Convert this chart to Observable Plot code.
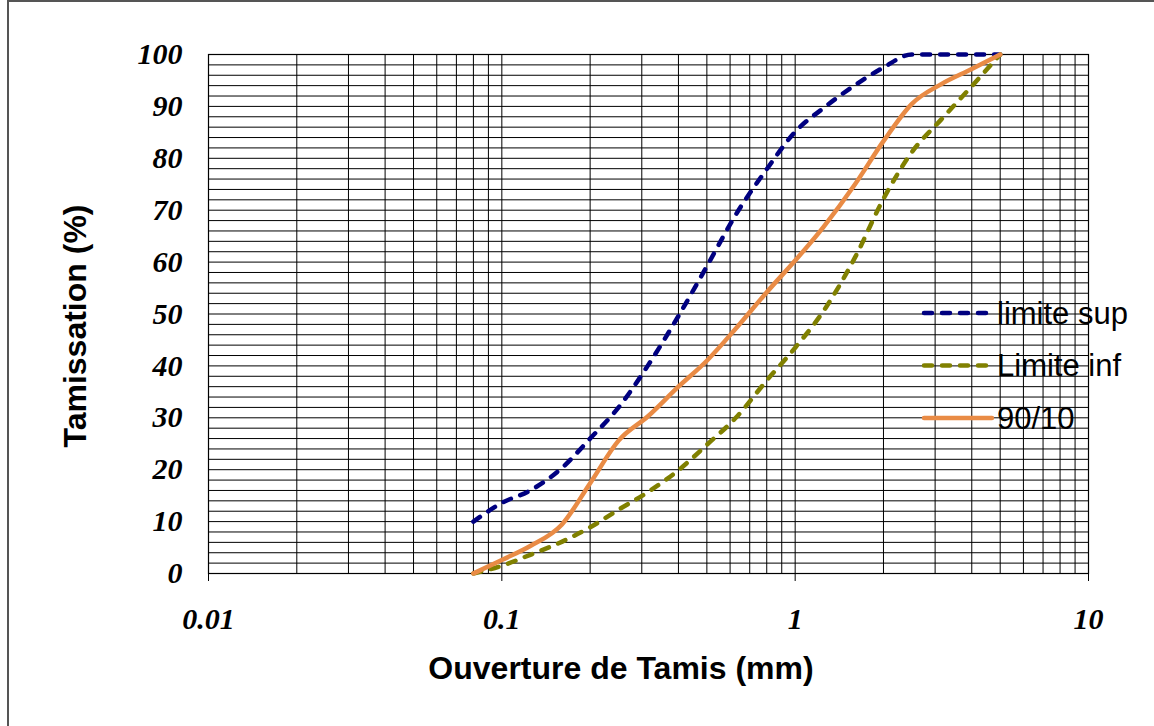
<!DOCTYPE html>
<html>
<head>
<meta charset="utf-8">
<script src="https://cdn.jsdelivr.net/npm/d3@7"></script>
<script src="https://cdn.jsdelivr.net/npm/@observablehq/plot@0.6"></script>
<style>
  html, body { margin: 0; padding: 0; background: #fff; }
  #wrap { position: relative; width: 1154px; height: 726px; overflow: hidden; background: #fff; }
  #wrap svg { position: absolute; left: 0; top: 0; }
  .bTop { position: absolute; left: 7px; top: 0; width: 1147px; height: 2px; background: #555; }
  .bLeft { position: absolute; left: 7px; top: 0; width: 2px; height: 726px; background: #555; }
</style>
</head>
<body>
<div id="wrap"><div class="bTop"></div><div class="bLeft"></div></div>
<script>
// Sieve openings (mm)
const sieves = [0.08, 0.1, 0.125, 0.16, 0.2, 0.25, 0.315, 0.4, 0.5, 0.63, 0.8, 1, 1.25, 1.6, 2, 2.5, 3.15, 4, 5];
// Passing (%) per series
const limiteSup = [10, 13.6, 16, 20.3, 26, 32, 40.1, 49.6, 59.2, 69.3, 77.9, 85.1, 89.7, 94.1, 97.5, 100, 100, 100, 100];
const limiteInf = [0, 1.5, 3.6, 6.1, 8.9, 12.3, 15.7, 19.9, 24.8, 30.1, 37.2, 43.5, 50.6, 60.9, 72.2, 81.2, 87.5, 93.9, 100];
const courbe9010 = [0, 2.6, 5.3, 9.4, 17.4, 25.6, 30.3, 36, 41, 47.3, 54.2, 60.3, 66.8, 75, 83.3, 90.5, 94.3, 97.2, 100];
const seriesNames = ["limite sup", "Limite inf", "90/10"];
const seriesColors = ["#000080", "#808000", "#E98B45"];
const seriesDash = ["8,10", "8,10", null];
// Axis ticks
const xTicks = [0.01, 0.1, 1, 10];
const yTicks = [0, 10, 20, 30, 40, 50, 60, 70, 80, 90, 100];
// Grid lines
const xGrid = [];
for (const dec of [0.01, 0.1, 1]) for (let k = 1; k <= 9; k++) xGrid.push(+(dec * k).toPrecision(3));
xGrid.push(10);
const yGrid = d3.range(0, 101, 2);

const seriesValues = [limiteSup, limiteInf, courbe9010];
const rows = seriesValues.map((vals, i) => sieves.map((s, j) => ({ s, v: vals[j], name: seriesNames[i] })));

const serif = "'Liberation Serif', 'Times New Roman', serif";
const sans = "'Liberation Sans', Arial, sans-serif";

const chart = Plot.plot({
  width: 1154,
  height: 726,
  marginLeft: 208,
  marginRight: 66,
  marginTop: 54,
  marginBottom: 153,
  x: { type: "log", domain: [0.01, 10] },
  y: { domain: [0, 100] },
  style: { background: "transparent", color: "#000" },
  marks: [
    Plot.ruleY(yGrid, { stroke: "#000", strokeWidth: 1 }),
    Plot.ruleX(xGrid, { stroke: "#000", strokeWidth: 1 }),
    Plot.frame({ stroke: "#000", strokeWidth: 1.2 }),
    Plot.axisY(yTicks, {
      tickSize: 0, tickPadding: 26, label: null,
      fontFamily: serif, fontStyle: "italic", fontWeight: "bold", fontSize: 30, fill: "#000"
    }),
    Plot.axisX(xTicks, {
      tickSize: 8, tickPadding: 26, label: null, tickFormat: d => String(d),
      fontFamily: serif, fontStyle: "italic", fontWeight: "bold", fontSize: 30, fill: "#000", stroke: "#000"
    }),
    ...rows.map((r, i) => Plot.line(r, {
      x: "s", y: "v", stroke: seriesColors[i], strokeWidth: 4.5,
      strokeDasharray: seriesDash[i] || undefined, strokeLinecap: "round",
      curve: "monotone-x"
    }))
  ]
});

const svg = d3.select(chart);
// Axis titles
svg.append("text")
  .attr("transform", "translate(75,326) rotate(-90)")
  .attr("text-anchor", "middle").attr("dy", "0.35em")
  .style("font-family", sans).style("font-weight", "bold").style("font-size", "32px")
  .text("Tamissation (%)");
svg.append("text")
  .attr("x", 621).attr("y", 668)
  .attr("text-anchor", "middle").attr("dy", "0.35em")
  .style("font-family", sans).style("font-weight", "bold").style("font-size", "32px")
  .text("Ouverture de Tamis (mm)");
// Legend
const lg = svg.append("g");
seriesNames.forEach((name, i) => {
  const y = 313 + i * 52.5;
  lg.append("line").attr("x1", 924).attr("x2", 992).attr("y1", y).attr("y2", y)
    .attr("stroke", seriesColors[i]).attr("stroke-width", 4.5).attr("stroke-linecap", "round")
    .attr("stroke-dasharray", seriesDash[i]);
  lg.append("text").attr("x", 997).attr("y", y).attr("dy", "0.35em")
    .attr("text-anchor", "start")
    .style("font-family", sans).style("font-size", "31px").attr("fill", "#000")
    .text(name);
});

document.getElementById("wrap").appendChild(chart);
</script>
</body>
</html>
